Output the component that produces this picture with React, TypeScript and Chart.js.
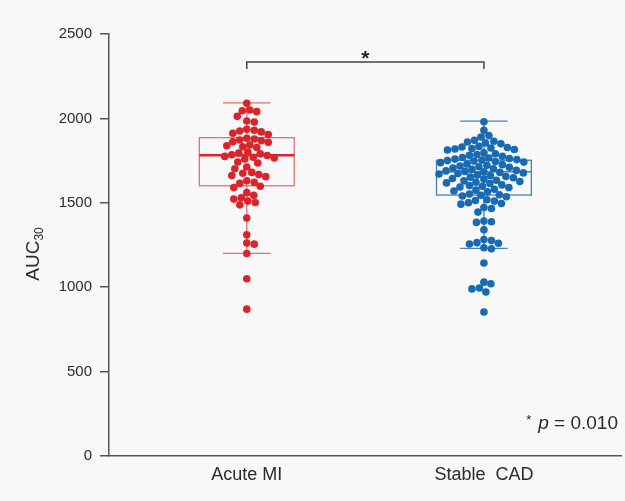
import React, { useEffect, useRef } from 'react';
import { Chart, registerables } from 'chart.js';

Chart.register(...registerables);

// ---------- data ----------
const categories = ['Acute MI', 'Stable  CAD'];

const acuteMI = [
  2090, 2050, 2045, 2040, 2012, 1985, 1978,
  1935, 1930, 1925, 1920, 1912, 1905,
  1882, 1878, 1872, 1868, 1862, 1858,
  1842, 1838, 1832, 1828,
  1800, 1795, 1790, 1785, 1780, 1775, 1770, 1765, 1760,
  1742, 1736,
  1712, 1702,
  1680, 1675, 1668, 1662, 1655,
  1630, 1622, 1615,
  1598, 1590, 1560, 1545,
  1530, 1522, 1510, 1502, 1488,
  1410, 1310, 1262, 1255, 1200, 1050, 870,
];

const stableCAD = [
  1980, 1930, 1898, 1890,
  1870, 1865, 1860, 1855, 1850,
  1834, 1831, 1828, 1825, 1822, 1819, 1816, 1813,
  1796, 1791, 1786, 1781, 1776,
  1768, 1765, 1762, 1759, 1756, 1753, 1750, 1747, 1744, 1741, 1738,
  1730, 1726, 1722, 1718, 1714, 1710, 1706, 1702, 1698,
  1692, 1689, 1686, 1683, 1680, 1677, 1674, 1671,
  1664, 1660, 1656, 1652, 1648, 1644, 1640,
  1634, 1630, 1626, 1622, 1618, 1614,
  1606, 1602, 1598, 1594, 1590,
  1580, 1575, 1570, 1565,
  1552, 1548, 1544, 1540, 1536,
  1518, 1514, 1510,
  1500, 1496, 1492,
  1472, 1466,
  1445,
  1392, 1388, 1384,
  1340,
  1282, 1276,
  1264, 1260, 1256,
  1234, 1228,
  1143,
  1030, 1020, 995, 990, 972,
  853,
];

// box stats: [whisker low, Q1, median, Q3, whisker high]
const acuteBox = [1200, 1601, 1781, 1886, 2092];
const stableBox = [1230, 1546, 1684, 1752, 1984];

const yTicks = [0, 500, 1000, 1500, 2000, 2500];
const bracketLevel = [2334, 2293];
const pValueText = '= 0.010';

// ---------- style ----------
const RED = 'rgb(218,36,42)';
const RED_BOX = 'rgb(230,110,112)';
const RED_MED = 'rgb(212,40,46)';
const BLUE = 'rgb(24,106,178)';
const BLUE_BOX = 'rgb(66,130,192)';
const AXIS = '#555';
const TEXT = '#2b2b2b';
const FONT = '"Liberation Sans", Arial, Helvetica, sans-serif';
const PX_PER_X = 237.5;
const PX_PER_Y = 422 / 2500;
const DOT_R = 3.8;
const DOT_D = 7.2;

function swarm(values: number[], center: number) {
  const placed: { px: number; py: number }[] = [];
  const out: { x: number; y: number }[] = [];
  const sorted = [...values].sort((a, b) => b - a);
  for (const v of sorted) {
    const py = v * PX_PER_Y;
    let off = 0;
    for (let k = 0; k < 600; k++) {
      const cand = (k % 2 === 1 ? 1 : -1) * Math.ceil(k / 2) * 0.5;
      if (placed.every((p) => (p.px - cand) ** 2 + (p.py - py) ** 2 >= DOT_D * DOT_D)) {
        off = cand;
        break;
      }
    }
    placed.push({ px: off, py });
    out.push({ x: center + off / PX_PER_X, y: v });
  }
  return out;
}

const annotPlugin = {
  id: 'annot',
  beforeDraw(chart: any) {
    const { ctx, width, height } = chart;
    ctx.save();
    ctx.fillStyle = '#f8f8f8';
    ctx.fillRect(0, 0, width, height);
    ctx.restore();
  },
  beforeDatasetsDraw(chart: any) {
    const { ctx } = chart;
    const xs = chart.scales.x;
    const ys = chart.scales.y;
    const boxes = [
      { s: acuteBox, c: 1, line: RED_BOX, med: RED_MED, mw: 2.5 },
      { s: stableBox, c: 2, line: BLUE_BOX, med: BLUE_BOX, mw: 1.6 },
    ];
    ctx.save();
    for (const b of boxes) {
      const [lo, q1, med, q3, hi] = b.s;
      const xl = xs.getPixelForValue(b.c - 0.2);
      const xr = xs.getPixelForValue(b.c + 0.2);
      const xc = xs.getPixelForValue(b.c);
      const cl = xs.getPixelForValue(b.c - 0.1);
      const cr = xs.getPixelForValue(b.c + 0.1);
      ctx.strokeStyle = b.line;
      ctx.lineWidth = 1.3;
      ctx.strokeRect(xl, ys.getPixelForValue(q3), xr - xl, ys.getPixelForValue(q1) - ys.getPixelForValue(q3));
      ctx.beginPath();
      ctx.moveTo(xc, ys.getPixelForValue(q3));
      ctx.lineTo(xc, ys.getPixelForValue(hi));
      ctx.moveTo(xc, ys.getPixelForValue(q1));
      ctx.lineTo(xc, ys.getPixelForValue(lo));
      ctx.moveTo(cl, ys.getPixelForValue(hi));
      ctx.lineTo(cr, ys.getPixelForValue(hi));
      ctx.moveTo(cl, ys.getPixelForValue(lo));
      ctx.lineTo(cr, ys.getPixelForValue(lo));
      ctx.stroke();
      ctx.strokeStyle = b.med;
      ctx.lineWidth = b.mw;
      ctx.beginPath();
      ctx.moveTo(xl, ys.getPixelForValue(med));
      ctx.lineTo(xr, ys.getPixelForValue(med));
      ctx.stroke();
    }
    ctx.restore();
  },
  afterDraw(chart: any) {
    const { ctx } = chart;
    const xs = chart.scales.x;
    const ys = chart.scales.y;
    ctx.save();
    // significance bracket
    const x1 = xs.getPixelForValue(1);
    const x2 = xs.getPixelForValue(2);
    const yb = ys.getPixelForValue(bracketLevel[0]);
    const yt = ys.getPixelForValue(bracketLevel[1]);
    ctx.strokeStyle = '#444';
    ctx.lineWidth = 1.5;
    ctx.beginPath();
    ctx.moveTo(x1, yt);
    ctx.lineTo(x1, yb);
    ctx.lineTo(x2, yb);
    ctx.lineTo(x2, yt);
    ctx.stroke();
    ctx.fillStyle = '#222';
    ctx.font = `bold 21px ${FONT}`;
    ctx.textAlign = 'center';
    ctx.textBaseline = 'alphabetic';
    ctx.fillText('*', (x1 + x2) / 2, yb + 3);

    // y axis title with subscript
    ctx.save();
    ctx.translate(39, 254);
    ctx.rotate(-Math.PI / 2);
    ctx.fillStyle = TEXT;
    ctx.textAlign = 'left';
    ctx.textBaseline = 'alphabetic';
    ctx.font = `19px ${FONT}`;
    const w1 = ctx.measureText('AUC').width;
    ctx.font = `12px ${FONT}`;
    const w2 = ctx.measureText('30').width;
    const start = -(w1 + w2) / 2;
    ctx.font = `19px ${FONT}`;
    ctx.fillText('AUC', start, 0);
    ctx.font = `12px ${FONT}`;
    ctx.fillText('30', start + w1, 4);
    ctx.restore();

    // p value (right-aligned at x=618)
    ctx.fillStyle = TEXT;
    ctx.textBaseline = 'alphabetic';
    ctx.textAlign = 'left';
    const by = 429;
    ctx.font = `19px ${FONT}`;
    const wEq = ctx.measureText(pValueText).width;
    ctx.font = `italic 19px ${FONT}`;
    const wP = ctx.measureText('p ').width;
    ctx.font = `13px ${FONT}`;
    const wS = ctx.measureText('*').width;
    let px = 618 - wEq - wP - wS - 7;
    ctx.fillText('*', px, by - 5);
    px += wS + 7;
    ctx.font = `italic 19px ${FONT}`;
    ctx.fillText('p', px, by);
    px += wP;
    ctx.font = `19px ${FONT}`;
    ctx.fillText(pValueText, px, by);
    ctx.restore();
  },
};

export default function App() {
  const ref = useRef<HTMLCanvasElement | null>(null);

  useEffect(() => {
    document.body.style.margin = '0';
    const canvas = ref.current;
    if (!canvas) return;
    const chart = new Chart(canvas, {
      type: 'scatter',
      data: {
        datasets: [
          {
            label: categories[0],
            data: swarm(acuteMI, 1),
            backgroundColor: RED,
            borderWidth: 0,
            pointRadius: DOT_R,
            pointHoverRadius: DOT_R,
          },
          {
            label: categories[1],
            data: swarm(stableCAD, 2),
            backgroundColor: BLUE,
            borderWidth: 0,
            pointRadius: DOT_R,
            pointHoverRadius: DOT_R,
          },
        ],
      },
      options: {
        responsive: false,
        animation: false,
        events: [],
        layout: { padding: { left: 0, top: 34, right: 3, bottom: 0 } },
        plugins: { legend: { display: false }, tooltip: { enabled: false } },
        scales: {
          x: {
            type: 'linear',
            min: 1 - 138 / PX_PER_X,
            max: 2 + 137.5 / PX_PER_X,
            afterBuildTicks: (axis: any) => {
              axis.ticks = [{ value: 1 }, { value: 2 }];
            },
            afterFit: (axis: any) => {
              axis.height = 45;
            },
            grid: { drawOnChartArea: false, drawTicks: false },
            border: { display: true, color: AXIS, width: 1.5 },
            ticks: {
              padding: 8,
              color: TEXT,
              font: { family: FONT, size: 18 },
              autoSkip: false,
              maxRotation: 0,
              callback: (v: any) => categories[Math.round(Number(v)) - 1] ?? '',
            },
          },
          y: {
            type: 'linear',
            min: 0,
            max: 2500,
            afterBuildTicks: (axis: any) => {
              axis.ticks = yTicks.map((v) => ({ value: v }));
            },
            afterFit: (axis: any) => {
              axis.width = 109;
            },
            grid: { drawOnChartArea: false, drawTicks: true, tickLength: 9, color: AXIS, lineWidth: 1.5 },
            border: { display: true, color: AXIS, width: 1.5 },
            ticks: {
              padding: 8,
              color: TEXT,
              font: { family: FONT, size: 15 },
              callback: (v: any) => String(v),
            },
          },
        },
      },
      plugins: [annotPlugin],
    } as any);
    return () => chart.destroy();
  }, []);

  return (
    <div style={{ width: 625, height: 501 }}>
      <canvas ref={ref} width={625} height={501} style={{ display: 'block' }} />
    </div>
  );
}
